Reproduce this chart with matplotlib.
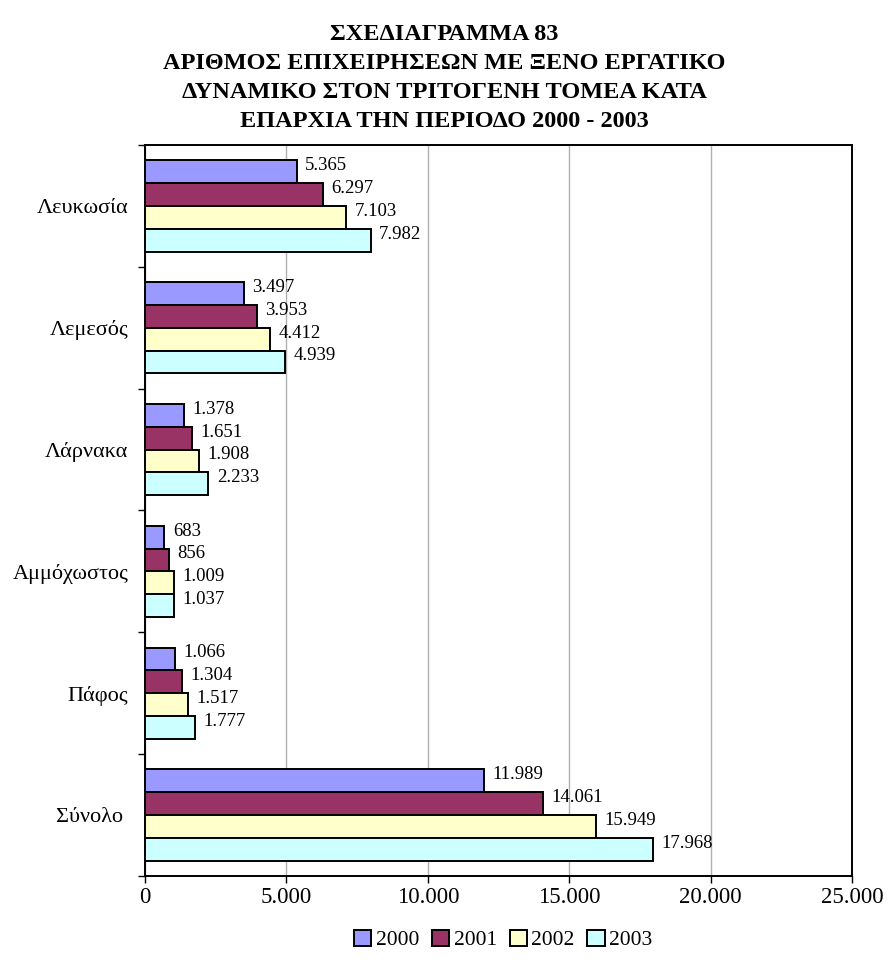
import numpy as np
import matplotlib.pyplot as plt
from matplotlib.ticker import FuncFormatter, MultipleLocator

plt.rcParams['font.family'] = ['Liberation Serif', 'DejaVu Serif']

categories = ['Λευκωσία', 'Λεμεσός', 'Λάρνακα', 'Αμμόχωστος', 'Πάφος', 'Σύνολο ']
years = ['2000', '2001', '2002', '2003']
v2000 = [5365, 3497, 1378, 683, 1066, 11989]
v2001 = [6297, 3953, 1651, 856, 1304, 14061]
v2002 = [7103, 4412, 1908, 1009, 1517, 15949]
v2003 = [7982, 4939, 2233, 1037, 1777, 17968]
colors = ['#9999FF', '#993366', '#FFFFCC', '#CCFFFF']

def fmt(v):
    return f"{int(v):,}".replace(",", ".")

fig = plt.figure(figsize=(8.89, 9.64), dpi=100)
ax = fig.add_axes([0.1631, 0.0913, 0.7953, 0.7583])

y = np.arange(len(categories))
h = 0.1875
series = [v2000, v2001, v2002, v2003]
for i, (vals, c, yr) in enumerate(zip(series, colors, years)):
    pos = y - 1.5 * h + i * h
    ax.barh(pos, vals, height=h, color=c, edgecolor='black', linewidth=1.4, label=yr, zorder=3)
    for p, v in zip(pos, vals):
        ax.text(v + 300, p - 0.05, fmt(v), va='center', ha='left', fontsize=13.5, zorder=4)

ax.set_xlim(0, 25000)
ax.set_ylim(len(categories) - 0.5, -0.5)
ax.xaxis.set_major_locator(MultipleLocator(5000))
ax.xaxis.set_major_formatter(FuncFormatter(lambda v, p: fmt(v)))
ax.set_yticks(y)
ax.set_yticklabels(categories, fontsize=16)
ax.set_yticks(np.arange(-0.5, len(categories)), minor=True)
ax.tick_params(axis='y', which='major', length=0, pad=12)
ax.tick_params(axis='y', which='minor', length=5, width=1, direction='out')
ax.tick_params(axis='x', length=5, width=1, direction='out', labelsize=16.5, pad=3)
ax.grid(axis='x', color='#b0b0b0', linewidth=1, zorder=0)
for s in ax.spines.values():
    s.set_linewidth(1.4)

fig.suptitle('ΣΧΕΔΙΑΓΡΑΜΜΑ 83\nΑΡΙΘΜΟΣ ΕΠΙΧΕΙΡΗΣΕΩΝ ΜΕ ΞΕΝΟ ΕΡΓΑΤΙΚΟ\n'
             'ΔΥΝΑΜΙΚΟ ΣΤΟΝ ΤΡΙΤΟΓΕΝΗ ΤΟΜΕΑ ΚΑΤΑ\nΕΠΑΡΧΙΑ ΤΗΝ ΠΕΡΙΟΔΟ 2000 - 2003',
             x=0.5, y=0.975, fontsize=17.5, fontweight='bold', linespacing=1.5, va='top')

leg = fig.legend(loc='center', bbox_to_anchor=(0.566, 0.025), ncol=4, frameon=False,
                 fontsize=15.5, handlelength=0.8, handleheight=0.8, handletextpad=0.2,
                 columnspacing=0.6)

fig.savefig('out.png', dpi=100)
